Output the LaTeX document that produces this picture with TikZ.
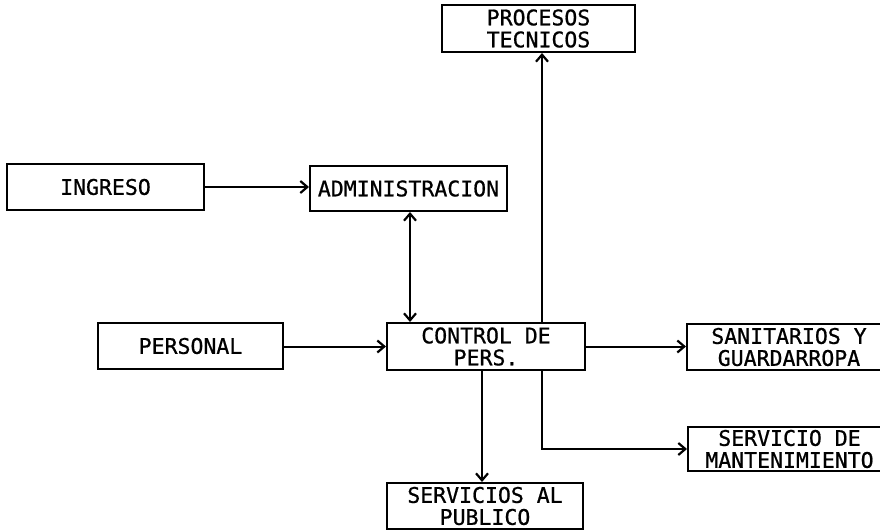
\documentclass[tikz,border=0pt]{standalone}
\usepackage{fontspec}
\newfontfamily\boxfont[FakeBold=0.8]{DejaVu Sans Mono}
\usetikzlibrary{arrows.meta}
\tikzset{
  blk/.style={draw, line width=2pt, inner sep=0pt, align=center,
    font=\boxfont\fontsize{21.5}{22}\selectfont},
  tip/.tip={Straight Barb[length=7pt,width=12pt,line width=2.2pt]},
  conn/.style={line width=2pt, -tip},
  dconn/.style={line width=2pt, tip-tip}
}
\begin{document}
\begin{tikzpicture}[x=1pt,y=-1pt]
\useasboundingbox[fill=white] (0,0) rectangle (880,532);
\node[blk, minimum width=193pt, minimum height=47pt] (proc) at (538.5,28.5) {PROCESOS\\TECNICOS};
\node[blk, minimum width=197pt, minimum height=46pt] (ing) at (105.5,187) {INGRESO};
\node[blk, minimum width=197pt, minimum height=45pt] (adm) at (408.5,188.5) {ADMINISTRACION};
\node[blk, minimum width=185pt, minimum height=46pt] (pers) at (190.5,346) {PERSONAL};
\node[blk, minimum width=198pt, minimum height=47pt] (ctrl) at (486,346.5) {CONTROL DE\\PERS.};
\node[blk, minimum width=204pt, minimum height=46pt] (san) at (789,347) {SANITARIOS Y\\GUARDARROPA};
\node[blk, minimum width=203pt, minimum height=44pt] (mant) at (789.5,449) {SERVICIO DE\\MANTENIMIENTO};
\node[blk, minimum width=196pt, minimum height=46pt] (pub) at (485,506) {SERVICIOS AL\\PUBLICO};
\draw[conn] (ing.east) -- (ing.east -| adm.west);
\draw[dconn] ([xshift=1.5pt]adm.south) -- ([xshift=1.5pt]adm.south |- ctrl.north);
\draw[conn] ([xshift=56pt]ctrl.north) -- ([xshift=56pt]ctrl.north |- proc.south);
\draw[conn] (pers.east |- ctrl.west) -- (ctrl.west);
\draw[conn] (ctrl.east) -- (ctrl.east -| san.west);
\draw[conn] ([xshift=-4pt]ctrl.south) -- ([xshift=-4pt]ctrl.south |- pub.north);
\draw[conn] ([xshift=56pt]ctrl.south) |- (mant.west);
\end{tikzpicture}
\end{document}
